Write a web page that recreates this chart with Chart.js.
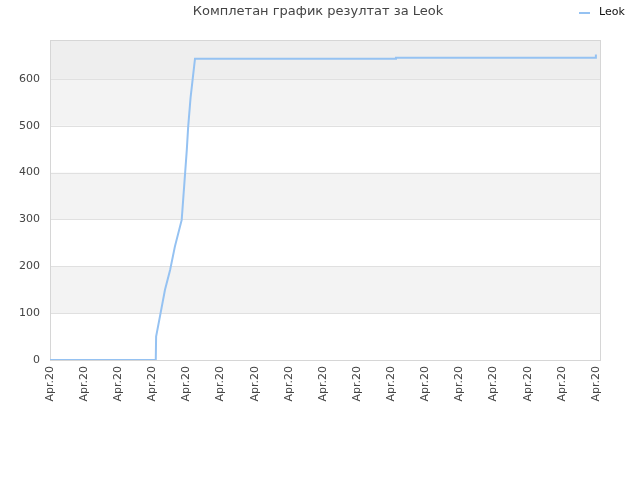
<!DOCTYPE html>
<html lang="sr">
<head>
  <meta charset="UTF-8">
  <title>Leok</title>
  <script src="https://cdn.jsdelivr.net/npm/chart.js"></script>
  <style>
    html, body { margin: 0; padding: 0; background: #fff; }
    #wrap { width: 640px; height: 480px; }
  </style>
  <script>
    // chart data
    const chartTitle = 'Комплетан график резултат за Leok';
    const seriesName = 'Leok';
    const xTickLabels = ['Apr.20', 'Apr.20', 'Apr.20', 'Apr.20', 'Apr.20', 'Apr.20', 'Apr.20', 'Apr.20', 'Apr.20',
      'Apr.20', 'Apr.20', 'Apr.20', 'Apr.20', 'Apr.20', 'Apr.20', 'Apr.20', 'Apr.20'];
    // x is measured in label spacings (0 = first label, 16 = last)
    const xValues = [0, 3.10, 3.11, 3.22, 3.37, 3.52, 3.66, 3.86, 3.96, 4.01, 4.05, 4.12, 4.19, 4.25, 10.13, 10.14, 15.99, 16.0];
    const yValues = [0, 0, 50, 92, 150, 192, 242, 299, 399, 449, 498, 560, 605, 643, 643, 645, 645, 652];
    const yTicks = [0, 100, 200, 300, 400, 500, 600];
    const yMax = 683;
  </script>
</head>
<body>
  <div id="wrap"><canvas id="scoreChart" width="640" height="480"></canvas></div>
  <script>
    const points = xValues.map((x, i) => ({ x: x, y: yValues[i] }));

    // alternating bands + frame behind the line
    const bands = {
      id: 'bands',
      beforeDatasetsDraw(chart) {
        const { ctx, chartArea: a, scales: { y } } = chart;
        ctx.save();
        const fills = [[100, 200, '#f3f3f3'], [300, 400, '#f3f3f3'], [500, 600, '#f3f3f3'], [600, yMax, '#eeeeee']];
        fills.forEach(f => {
          const top = y.getPixelForValue(f[1]);
          const bot = y.getPixelForValue(f[0]);
          ctx.fillStyle = f[2];
          ctx.fillRect(a.left, top, a.right - a.left, bot - top);
        });
        ctx.strokeStyle = '#e0e0e0';
        ctx.lineWidth = 1;
        yTicks.forEach(v => {
          const py = Math.round(y.getPixelForValue(v)) + 0.5;
          ctx.beginPath();
          ctx.moveTo(a.left, py);
          ctx.lineTo(a.right, py);
          ctx.stroke();
        });
        ctx.strokeStyle = '#d6d6d6';
        ctx.strokeRect(Math.round(a.left) + 0.5, Math.round(a.top) + 0.5, Math.round(a.right - a.left), Math.round(a.bottom - a.top));
        ctx.restore();
      }
    };

    // title and legend drawn on the same top row
    const header = {
      id: 'header',
      afterDraw(chart) {
        const ctx = chart.ctx;
        ctx.save();
        ctx.font = '13px "DejaVu Sans"';
        ctx.fillStyle = '#444';
        ctx.textAlign = 'center';
        ctx.textBaseline = 'middle';
        ctx.fillText(chartTitle, 318, 12);
        ctx.strokeStyle = '#95c2f2';
        ctx.lineWidth = 2;
        ctx.beginPath();
        ctx.moveTo(579, 13);
        ctx.lineTo(590, 13);
        ctx.stroke();
        ctx.font = '11px "DejaVu Sans"';
        ctx.fillStyle = '#111';
        ctx.textAlign = 'left';
        ctx.fillText(seriesName, 599, 12);
        ctx.restore();
      }
    };

    new Chart(document.getElementById('scoreChart'), {
      type: 'line',
      data: {
        datasets: [{
          label: seriesName,
          data: points,
          borderColor: '#95c2f2',
          borderWidth: 2,
          pointRadius: 0,
          tension: 0,
          fill: false
        }]
      },
      options: {
        responsive: false,
        animation: false,
        layout: { padding: { top: 40, right: 40, left: 0, bottom: 0 } },
        plugins: {
          legend: { display: false },
          title: { display: false },
          tooltip: { enabled: false }
        },
        scales: {
          x: {
            type: 'linear',
            min: 0,
            max: 16.12,
            afterBuildTicks: s => { s.ticks = xTickLabels.map((l, i) => ({ value: i })); },
            afterFit: s => { s.height = 120; },
            grid: { display: false, drawTicks: false },
            border: { display: false },
            ticks: {
              autoSkip: false,
              minRotation: 90,
              maxRotation: 90,
              padding: 6,
              color: '#444',
              font: { family: 'DejaVu Sans', size: 11 },
              callback: v => xTickLabels[v]
            }
          },
          y: {
            min: 0,
            max: yMax,
            afterBuildTicks: s => { s.ticks = yTicks.map(v => ({ value: v })); },
            afterFit: s => { s.width = 50; },
            grid: { display: false, drawTicks: false },
            border: { display: false },
            ticks: {
              padding: 10,
              color: '#444',
              font: { family: 'DejaVu Sans', size: 11 }
            }
          }
        }
      },
      plugins: [bands, header]
    });
  </script>
</body>
</html>
